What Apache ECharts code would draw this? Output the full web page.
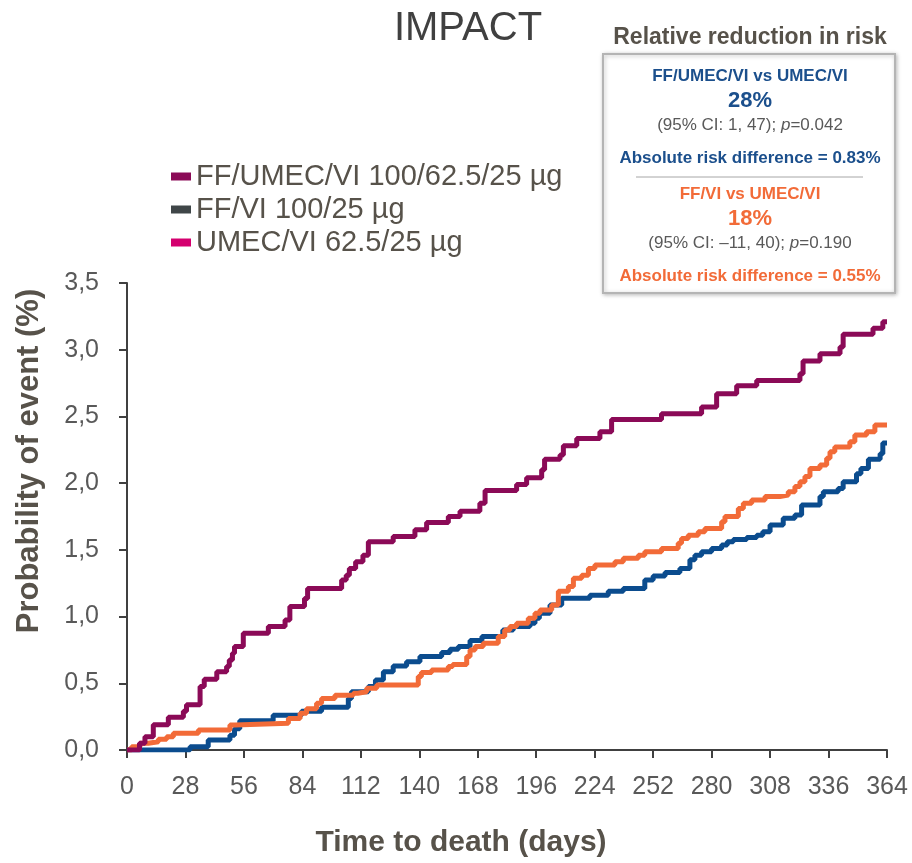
<!DOCTYPE html>
<html>
<head>
<meta charset="utf-8">
<title>IMPACT</title>
<script src="https://cdn.jsdelivr.net/npm/echarts@6/dist/echarts.min.js"></script>
<style>
  html, body { margin: 0; padding: 0; background: #fff; }
  #chart { width: 912px; height: 863px; }
</style>
</head>
<body>
<div id="chart"></div>
<script>
// step points: [day, cumulative probability of event (%)]
var tripleSteps = [[0,0],[6,0.05],[8.6,0.10],[12.6,0.19],[19.8,0.245],[27,0.29],[28.5,0.34],[35,0.475],[37,0.53],
  [43,0.587],[47.7,0.625],[49,0.675],[50.5,0.725],[51.5,0.775],[55.7,0.875],[67.7,0.925],[75.7,0.975],[78,1.075],
  [85,1.135],[86.5,1.21],[102.8,1.275],[105,1.31],[106.5,1.36],[109.5,1.41],[113,1.46],[115.6,1.56],[127.5,1.60],
  [137.9,1.65],[143.5,1.705],[153.9,1.75],[159.5,1.79],[169,1.85],[171.5,1.945],[186.6,1.99],[191.4,2.04],[198.6,2.10],
  [200,2.18],[207.4,2.21],[209,2.28],[215.4,2.335],[226.5,2.385],[232.1,2.477],[256,2.52],[275.2,2.57],[282.4,2.67],
  [292,2.73],[301.6,2.77],[322.3,2.82],[323.8,2.915],[331.9,2.97],[341.5,3.02],[343,3.115],[357.3,3.16],[362,3.21],[364,3.21]];

var ffViSteps = [[0,0],[30.2,0.025],[38.9,0.075],[49.3,0.11],[51.5,0.16],[54,0.22],[70,0.26],[83.6,0.29],[93.2,0.32],
  [106,0.386],[107.5,0.437],[115.6,0.475],[119,0.525],[122.8,0.587],[127.5,0.63],[133.9,0.662],[140.3,0.70],[150.7,0.73],
  [154.7,0.755],[158.7,0.775],[164.3,0.82],[170,0.85],[180,0.90],[185,0.925],[193,0.95],[195.4,0.987],[197.5,1.025],
  [202.6,1.087],[208.2,1.137],[221.7,1.16],[230.5,1.19],[237.7,1.21],[248,1.275],[252,1.305],[257.7,1.33],[264.8,1.36],
  [269.6,1.425],[272,1.46],[275.2,1.486],[280,1.51],[284.8,1.537],[287.5,1.56],[290.4,1.578],[296.8,1.593],[301.6,1.61],
  [304.5,1.636],[308,1.687],[314.3,1.737],[319.9,1.762],[323.1,1.837],[331.9,1.90],[333.5,1.935],[340.6,1.96],[343,2.01],
  [349.4,2.07],[351.5,2.11],[355.1,2.18],[360.7,2.22],[362,2.30],[364,2.30]];

var umecViSteps = [[0,0],[2.2,0.025],[6.2,0.05],[10.2,0.0625],[15,0.08],[19,0.10],[22.2,0.125],[34.2,0.15],[49.3,0.187],
  [51.7,0.20],[77.3,0.237],[82.9,0.275],[86,0.31],[90.8,0.35],[93.2,0.386],[99.6,0.41],[108.4,0.425],[110.5,0.437],
  [114.8,0.462],[119.6,0.487],[139.5,0.55],[141,0.58],[145.9,0.60],[153.9,0.625],[156,0.64],[162.7,0.70],[164.3,0.75],
  [166.7,0.775],[170.6,0.80],[177.8,0.85],[180.9,0.90],[183.4,0.925],[186.6,0.95],[192.2,0.987],[195.4,1.025],[197.8,1.05],
  [203.4,1.087],[206.6,1.19],[211.4,1.225],[213.8,1.287],[217.8,1.31],[221,1.36],[224.1,1.387],[233.7,1.41],[237.7,1.437],
  [244.9,1.46],[248,1.486],[256,1.51],[264,1.55],[265.6,1.586],[268.8,1.61],[273.6,1.636],[276.8,1.66],[284.8,1.71],
  [286.4,1.75],[292.8,1.81],[295.2,1.85],[299.2,1.874],[305.6,1.90],[312.7,1.91],[316.7,1.935],[319.9,1.974],[322.3,2.01],
  [324.7,2.05],[327.1,2.11],[331.9,2.136],[335.1,2.186],[336.7,2.236],[339,2.27],[346.2,2.31],[348.6,2.36],[354.2,2.385],
  [358.2,2.436],[364,2.436]];

var seriesNames = ['FF/UMEC/VI 100/62.5/25 µg', 'FF/VI 100/25 µg', 'UMEC/VI 62.5/25 µg'];
var legendColors = ['#8b0a57', '#3f4648', '#d4006f'];
var lineColors = ['#8b0a57', '#0b4c8e', '#f26b38'];

var chart = echarts.init(document.getElementById('chart'));

var textGrey = '#595959';
var nameColor = '#57524a';
var blueTxt = '#1b4f8c';
var orangeTxt = '#f26b38';
var bx = 750; // centre of the risk box

function boxText(y, txt, font, color) {
  return { type: 'text', x: bx, y: y, style: { text: txt, align: 'center', verticalAlign: 'middle', font: font, fill: color } };
}

var ciRich = {
  a: { font: '17px "Liberation Sans"', fill: textGrey },
  i: { font: 'italic 17px "Liberation Sans"', fill: textGrey }
};

var option = {
  animation: false,
  title: {
    text: 'IMPACT',
    left: 463,
    top: 4,
    textAlign: 'center',
    textStyle: { fontFamily: 'Liberation Sans', fontWeight: 'normal', fontSize: 40, color: '#404040' }
  },
  legend: {
    orient: 'vertical',
    left: 166,
    top: 157,
    itemWidth: 20,
    itemHeight: 8,
    itemGap: 4,
    icon: 'rect',
    selectedMode: false,
    textStyle: { fontFamily: 'Liberation Sans', fontSize: 29, lineHeight: 29, color: nameColor },
    data: seriesNames.map(function (n, i) {
      return { name: n, icon: 'rect', itemStyle: { color: legendColors[i] } };
    })
  },
  grid: { left: 127, right: 25, top: 283, bottom: 113 },
  xAxis: {
    type: 'value',
    min: 0, max: 364, interval: 28,
    axisLine: { lineStyle: { color: '#404040', width: 2 } },
    axisTick: { length: 8, lineStyle: { color: '#404040', width: 2 } },
    axisLabel: { margin: 25, fontFamily: 'Liberation Sans', fontSize: 25, color: textGrey },
    splitLine: { show: false }
  },
  yAxis: {
    type: 'value',
    min: 0, max: 3.5, interval: 0.5,
    axisLine: { show: true, lineStyle: { color: '#404040', width: 2 } },
    axisTick: { show: true, length: 8, lineStyle: { color: '#404040', width: 2 } },
    axisLabel: {
      margin: 28, fontFamily: 'Liberation Sans', fontSize: 25, color: textGrey,
      formatter: function (v) { return v.toFixed(1).replace('.', ','); }
    },
    splitLine: { show: false }
  },
  series: [
    { name: seriesNames[1], type: 'line', step: 'end', symbol: 'none', data: ffViSteps,
      lineStyle: { color: lineColors[1], width: 5 }, itemStyle: { color: lineColors[1] } },
    { name: seriesNames[2], type: 'line', step: 'end', symbol: 'none', data: umecViSteps,
      lineStyle: { color: lineColors[2], width: 5 }, itemStyle: { color: lineColors[2] } },
    { name: seriesNames[0], type: 'line', step: 'end', symbol: 'none', data: tripleSteps,
      lineStyle: { color: lineColors[0], width: 5 }, itemStyle: { color: lineColors[0] } }
  ],
  graphic: [
    // axis titles
    { type: 'text', x: 461, y: 843, style: { text: 'Time to death (days)', align: 'center', verticalAlign: 'middle',
      font: 'bold 30px "Liberation Sans"', fill: nameColor } },
    { type: 'text', x: 29, y: 461, rotation: Math.PI / 2, style: { text: 'Probability of event (%)', align: 'center', verticalAlign: 'middle',
      font: 'bold 31px "Liberation Sans"', fill: nameColor } },
    // risk box
    boxText(38, 'Relative reduction in risk', 'bold 23px "Liberation Sans"', nameColor),
    { type: 'rect', shape: { x: 603, y: 54, width: 292, height: 239 },
      style: { fill: '#fff', stroke: '#b4b4b4', lineWidth: 2, shadowBlur: 4, shadowColor: 'rgba(0,0,0,0.25)', shadowOffsetX: 1, shadowOffsetY: 1 } },
    boxText(76, 'FF/UMEC/VI vs UMEC/VI', 'bold 17px "Liberation Sans"', blueTxt),
    boxText(101, '28%', 'bold 22px "Liberation Sans"', blueTxt),
    { type: 'text', x: bx, y: 125, style: { text: '{a|(95% CI: 1, 47); }{i|p}{a|=0.042}', align: 'center', verticalAlign: 'middle', rich: ciRich } },
    boxText(158, 'Absolute risk difference = 0.83%', 'bold 17px "Liberation Sans"', blueTxt),
    { type: 'line', shape: { x1: 636, y1: 177, x2: 863, y2: 177 }, style: { stroke: '#a6a6a6', lineWidth: 1 } },
    boxText(194, 'FF/VI vs UMEC/VI', 'bold 17px "Liberation Sans"', orangeTxt),
    boxText(219, '18%', 'bold 22px "Liberation Sans"', orangeTxt),
    { type: 'text', x: bx, y: 243, style: { text: '{a|(95% CI: \u201311, 40); }{i|p}{a|=0.190}', align: 'center', verticalAlign: 'middle', rich: ciRich } },
    boxText(276, 'Absolute risk difference = 0.55%', 'bold 17px "Liberation Sans"', orangeTxt)
  ]
};

chart.setOption(option);
</script>
</body>
</html>
